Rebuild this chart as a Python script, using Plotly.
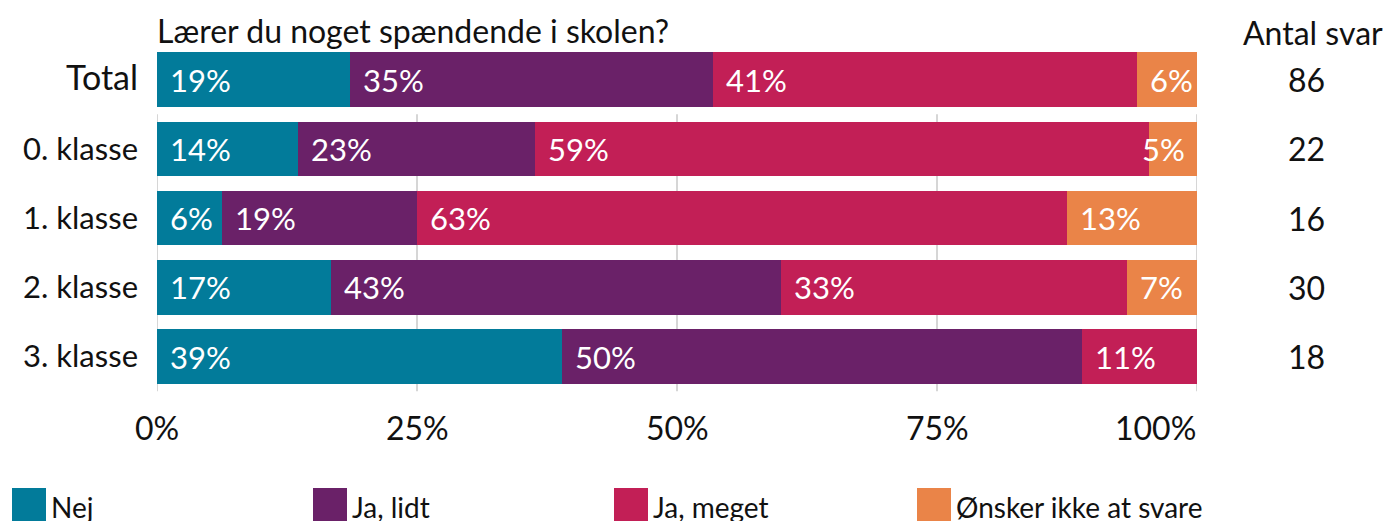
import plotly.graph_objects as go

categories = ["Total", "0. klasse", "1. klasse", "2. klasse", "3. klasse"]
series_names = ["Nej", "Ja, lidt", "Ja, meget", "Ønsker ikke at svare"]
nej = [18.6, 13.6, 6.25, 16.7, 38.9]
ja_lidt = [34.9, 22.7, 18.75, 43.3, 50.0]
ja_meget = [40.7, 59.1, 62.5, 33.3, 11.1]
onsker = [5.8, 4.6, 12.5, 6.7, 0.0]
antal_svar = [86, 22, 16, 30, 18]
x_ticks = [0, 25, 50, 75, 100]
x_ticklabels = ["0%", "25%", "50%", "75%", "100%"]
title_text = "Lærer du noget spændende i skolen?"
count_header = "Antal svar"

colors = ["#027B9A", "#6A2168", "#C21F56", "#EA8448"]
series = [nej, ja_lidt, ja_meget, onsker]

W, H = 1387, 521
ML, MR, MT, MB = 157, 190, 45, 129
PW = W - ML - MR
PH = H - MT - MB
FONT = "Lato"
TXT = "#111111"

def px_x(px):
    return (px - ML) / PW

def px_y(py):
    return (H - MB - py) / PH

fig = go.Figure()
for name, vals, col in zip(series_names, series, colors):
    fig.add_trace(go.Bar(
        y=categories, x=vals, name=name, orientation="h",
        marker=dict(color=col, line=dict(width=0)),
        showlegend=False, hoverinfo="x+name",
    ))

annotations = []
# segment labels
for ci, cat in enumerate(categories):
    start = 0.0
    for si, vals in enumerate(series):
        v = vals[ci]
        if v > 0:
            if v < 5:
                ax, anchor, shift = start + v, "right", -10
            else:
                ax, anchor, shift = start, "left", 11
            annotations.append(dict(
                x=ax, y=cat, xref="x", yref="y", text=f"{int(v + 0.5)}%",
                showarrow=False, xanchor=anchor, yanchor="middle", xshift=shift,
                font=dict(family=FONT, size=31, color="white"),
            ))
        start += v

# count column
annotations.append(dict(
    x=px_x(1313), y=px_y(32), xref="paper", yref="paper", text=count_header,
    showarrow=False, xanchor="center", yanchor="middle",
    font=dict(family=FONT, size=32, color=TXT),
))
for cat, n in zip(categories, antal_svar):
    annotations.append(dict(
        x=px_x(1306), y=cat, xref="paper", yref="y", text=str(n),
        showarrow=False, xanchor="center", yanchor="middle",
        font=dict(family=FONT, size=32, color=TXT),
    ))

# title
annotations.append(dict(
    x=0, y=px_y(31), xref="paper", yref="paper", text=title_text,
    showarrow=False, xanchor="left", yanchor="middle", xshift=-2,
    font=dict(family=FONT, size=32, color=TXT),
))

# x tick labels (last one right-aligned to plot edge)
for i, (t, lab) in enumerate(zip(x_ticks, x_ticklabels)):
    last = i == len(x_ticks) - 1
    annotations.append(dict(
        x=t, y=px_y(427), xref="x", yref="paper", text=lab,
        showarrow=False, xanchor="right" if last else "center",
        yanchor="middle", xshift=1 if last else 0,
        font=dict(family=FONT, size=32, color=TXT),
    ))

shapes = []
# gridlines (below bars, from below Total row)
for t in x_ticks:
    shapes.append(dict(
        type="line", xref="x", yref="y", x0=t, x1=t, y0=0.5, y1=4.5,
        line=dict(color="#C8C8C8", width=1.5), layer="below",
    ))

# manual legend
legend_x = [12, 313, 614, 917]
for lx, name, col in zip(legend_x, series_names, colors):
    shapes.append(dict(
        type="rect", xref="paper", yref="paper",
        x0=px_x(lx), x1=px_x(lx + 34), y0=px_y(488), y1=px_y(525),
        fillcolor=col, line=dict(width=0),
    ))
    annotations.append(dict(
        x=px_x(lx + 37), y=px_y(507), xref="paper", yref="paper", text=name,
        showarrow=False, xanchor="left", yanchor="middle",
        font=dict(family=FONT, size=28, color=TXT),
    ))

ticktext = ['<span style="font-size:34px">Total</span>'] + categories[1:]

fig.update_layout(
    width=W, height=H,
    margin=dict(l=ML, r=MR, t=MT, b=MB, pad=0),
    barmode="stack", bargap=0.21,
    plot_bgcolor="white", paper_bgcolor="white",
    font=dict(family=FONT, size=31, color=TXT),
    xaxis=dict(range=[0, 100], showticklabels=False,
               showgrid=False, zeroline=False, showline=False,
               fixedrange=True),
    yaxis=dict(categoryorder="array", categoryarray=categories,
               autorange="reversed", tickvals=categories, ticktext=ticktext,
               showgrid=False, zeroline=False, showline=False,
               ticklabelstandoff=18, tickfont=dict(size=31, color=TXT),
               fixedrange=True),
    annotations=annotations, shapes=shapes, showlegend=False,
)

fig.write_html("out.html")
